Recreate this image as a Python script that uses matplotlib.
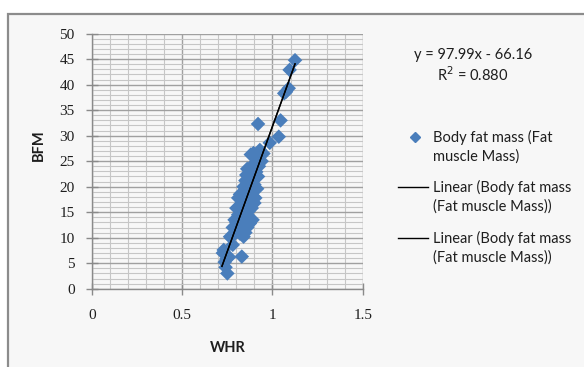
import matplotlib
matplotlib.use("Agg")
import matplotlib.pyplot as plt
from matplotlib.patches import Rectangle
from matplotlib.lines import Line2D
from matplotlib.ticker import MultipleLocator
import numpy as np

# ---- data ----
whr = [1.125, 1.095, 1.09, 1.075, 1.065, 1.045, 1.035, 0.92, 0.985, 0.95, 0.93, 0.94,
       0.88, 0.895, 0.91, 0.90, 0.925,
       0.86, 0.875, 0.89, 0.91, 0.92, 0.855,
       0.85, 0.87, 0.885, 0.90, 0.915, 0.84, 0.86, 0.88,
       0.82, 0.81, 0.83, 0.85, 0.87, 0.89, 0.905, 0.84, 0.86, 0.90,
       0.80, 0.81, 0.83, 0.85, 0.87, 0.885, 0.79, 0.80, 0.82, 0.86, 0.89, 0.875,
       0.78, 0.80, 0.83, 0.85, 0.86, 0.84, 0.82, 0.77,
       0.78, 0.765, 0.83, 0.73, 0.725, 0.745, 0.76, 0.74, 0.75, 0.735]
bfm = [44.8, 42.9, 39.3, 38.6, 38.3, 33.0, 29.8, 32.3, 28.6, 26.5, 27.2, 25.0,
       26.3, 26.6, 25.8, 24.6, 24.0,
       23.5, 22.8, 23.8, 22.9, 22.0, 22.3,
       21.2, 20.8, 21.5, 20.4, 19.6, 20.0, 19.3, 19.8,
       18.5, 17.8, 17.2, 18.0, 17.5, 18.2, 17.8, 16.5, 16.0, 16.8,
       15.8, 14.5, 15.0, 14.2, 15.3, 15.8, 13.5, 13.0, 12.5, 13.2, 13.5, 12.8,
       12.0, 11.2, 11.5, 11.0, 12.0, 10.2, 10.8, 10.0,
       8.6, 10.2, 6.3, 7.6, 7.0, 5.8, 6.2, 4.2, 3.0, 5.2]
slope = 97.99
intercept = -66.16
r2 = 0.880
x_ticks = [0, 0.5, 1, 1.5]
x_tick_labels = ["0", "0.5", "1", "1.5"]
y_ticks = [0, 5, 10, 15, 20, 25, 30, 35, 40, 45, 50]
legend_labels = [["Body fat mass (Fat", "muscle Mass)"],
                 ["Linear (Body fat mass", "(Fat muscle Mass))"],
                 ["Linear (Body fat mass", "(Fat muscle Mass))"]]

BLUE = "#4A7EBB"
TXT = "#1e1e1e"
W, H = 584, 367
fig = plt.figure(figsize=(W / 100, H / 100), dpi=100)
fig.patch.set_facecolor("white")

def fx(px):
    return px / W

def fy(py):
    return 1 - py / H

# chart-area frame (cropped chart)
frame = Rectangle((fx(7.5), -0.05), 1.2, fy(13.5) + 0.05, transform=fig.transFigure,
                  facecolor="#f7f7f7", edgecolor="#8c8c8c", linewidth=1.6, zorder=-1)
fig.patches.append(frame)

ax = fig.add_axes([fx(92), fy(288.7), fx(362.7 - 92), (288.7 - 33.7) / H])
ax.set_zorder(2)
ax.set_facecolor("#f7f7f7")
ax.set_xlim(0, 1.5)
ax.set_ylim(0, 50)

# grid
ax.xaxis.set_minor_locator(MultipleLocator(0.1))
ax.yaxis.set_minor_locator(MultipleLocator(1))
ax.grid(which="minor", color="#c6c6c6", linewidth=0.8)
ax.grid(which="major", color="#a0a0a0", linewidth=1.0)
ax.set_axisbelow(True)

ax.scatter(whr, bfm, marker="D", s=55, color=BLUE, edgecolors="none", zorder=3)
xs = np.array([min(whr) - 0.005, max(whr)])
for _ in range(2):
    ax.plot(xs, slope * xs + intercept, color="black", linewidth=1.0, zorder=4)

for s in ["top", "right"]:
    ax.spines[s].set_visible(False)
for s in ["left", "bottom"]:
    ax.spines[s].set_color("#8a8a8a")
    ax.spines[s].set_linewidth(1.0)

ax.set_xticks(x_ticks)
ax.set_xticklabels(x_tick_labels)
ax.set_yticks(y_ticks)
ax.tick_params(which="minor", length=0)
ax.tick_params(which="major", direction="inout", length=9, color="#8a8a8a", width=1.0)
ax.tick_params(axis="x", pad=10)
ax.tick_params(axis="y", pad=8)
for lab in ax.get_xticklabels() + ax.get_yticklabels():
    lab.set_fontfamily("Liberation Serif")
    lab.set_fontsize(11)
    lab.set_color(TXT)

fig.text(fx(39), fy(145), "BFM", rotation=90, ha="center", va="center",
         fontfamily="Lato", fontweight="bold", fontsize=10.5, color=TXT)
fig.text(fx(228), fy(348), "WHR", ha="center", va="center",
         fontfamily="Lato", fontweight="bold", fontsize=10.5, color=TXT)

fig.text(fx(473), fy(55), f"y = {slope:.2f}x - {abs(intercept):.2f}", ha="center",
         va="center", fontfamily="Lato", fontsize=10.5, color=TXT)
fig.text(fx(473), fy(75), f"R$^2$ = {r2:.3f}", ha="center", va="center",
         fontfamily="Lato", fontsize=10.5, color=TXT)

# legend (Excel style: key aligned with the first line of each label)
entry_y = [137, 187, 238]
for i, (lines, yy) in enumerate(zip(legend_labels, entry_y)):
    if i == 0:
        fig.add_artist(Line2D([fx(414.5)], [fy(yy)], transform=fig.transFigure,
                              marker="D", markersize=5, color=BLUE, linestyle="none"))
    else:
        fig.add_artist(Line2D([fx(398), fx(428)], [fy(yy), fy(yy)],
                              transform=fig.transFigure, color="black", linewidth=1.0))
    for j, line in enumerate(lines):
        fig.text(fx(433), fy(yy + 20 * j), line, ha="left", va="center",
                 fontfamily="Lato", fontsize=10.5, color=TXT)

fig.savefig("out.png", dpi=100, facecolor=fig.get_facecolor())
